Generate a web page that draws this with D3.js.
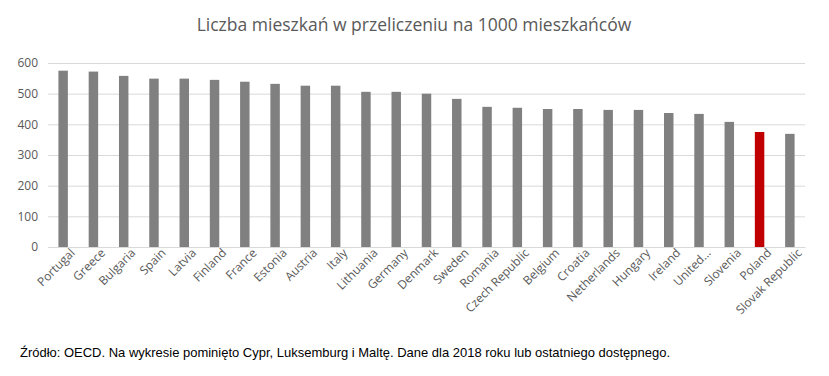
<!DOCTYPE html>
<html>
<head>
<meta charset="utf-8">
<script src="https://cdn.jsdelivr.net/npm/d3@7"></script>
<style>
  body { margin: 0; background: #fff; }
  svg { display: block; overflow: visible; }
</style>
</head>
<body>
<svg id="chart"></svg>
<script>
// Data
const countries = ['Portugal', 'Greece', 'Bulgaria', 'Spain', 'Latvia', 'Finland', 'France', 'Estonia',
    'Austria', 'Italy', 'Lithuania', 'Germany', 'Denmark', 'Sweden', 'Romania', 'Czech Republic',
    'Belgium', 'Croatia', 'Netherlands', 'Hungary', 'Ireland', 'United...', 'Slovenia', 'Poland',
    'Slovak Republic'];
const dwellings = [575, 572, 558, 549, 549, 545, 539, 532, 526, 526, 506, 506, 500, 483, 457, 454,
    450, 450, 447, 447, 437, 434, 408, 375, 369];
const highlighted = ['Poland'];
const yTicks = [0, 100, 200, 300, 400, 500, 600];

const width = 829, height = 376;
const margin = { top: 63, right: 24, bottom: 129, left: 48 };
const innerWidth = width - margin.left - margin.right;
const innerHeight = height - margin.top - margin.bottom;

const svg = d3.select('#chart').attr('width', width).attr('height', height);

// Title
svg.append('text')
    .attr('x', 414)
    .attr('y', 31)
    .attr('text-anchor', 'middle')
    .attr('font-family', '"Open Sans", sans-serif')
    .attr('font-size', 17.5)
    .attr('fill', '#595959')
    .text('Liczba mieszkań w przeliczeniu na 1000 mieszkańców');

const g = svg.append('g').attr('transform', `translate(${margin.left},${margin.top})`);

const x = d3.scaleBand()
    .domain(countries)
    .range([0, innerWidth])
    .paddingInner(0.6875)
    .paddingOuter(0.34375);

const y = d3.scaleLinear()
    .domain([0, 600])
    .range([innerHeight, 0]);

// Gridlines + y labels
const yAxis = g.append('g')
    .attr('font-family', '"Open Sans", sans-serif')
    .attr('font-size', 12)
    .call(d3.axisLeft(y).tickValues(yTicks).tickSize(-innerWidth).tickPadding(10))
    .attr('font-family', '"Open Sans", sans-serif')
    .attr('font-size', 12);
yAxis.select('.domain').remove();
yAxis.selectAll('.tick line').attr('stroke', '#d9d9d9');
yAxis.selectAll('.tick text').attr('fill', '#595959');

// Bars
g.selectAll('.bar')
    .data(countries.map((c, i) => ({ country: c, value: dwellings[i] })))
    .enter()
    .append('rect')
    .attr('class', 'bar')
    .attr('x', d => x(d.country))
    .attr('width', x.bandwidth())
    .attr('y', d => y(d.value))
    .attr('height', d => y(0) - y(d.value))
    .attr('fill', d => highlighted.includes(d.country) ? '#c00000' : '#808080');

// X axis
const xAxis = g.append('g')
    .attr('transform', `translate(0,${innerHeight})`)
    .call(d3.axisBottom(x).tickSize(0).tickPadding(7))
    .attr('font-family', '"Open Sans", sans-serif')
    .attr('font-size', 12);
xAxis.select('.domain').attr('stroke', '#d9d9d9');
xAxis.selectAll('.tick text')
    .attr('fill', '#595959')
    .attr('text-anchor', 'end')
    .attr('dx', '0.35em')
    .attr('dy', '0.55em')
    .attr('transform', 'rotate(-45)');

// Source note
svg.append('text')
    .attr('x', 20)
    .attr('y', 357)
    .attr('textLength', 650)
    .attr('lengthAdjust', 'spacingAndGlyphs')
    .attr('font-family', '"Liberation Sans", Arial, sans-serif')
    .attr('font-size', 13.5)
    .attr('fill', '#000')
    .text('Źródło: OECD. Na wykresie pominięto Cypr, Luksemburg i Maltę. Dane dla 2018 roku lub ostatniego dostępnego.');
</script>
</body>
</html>
